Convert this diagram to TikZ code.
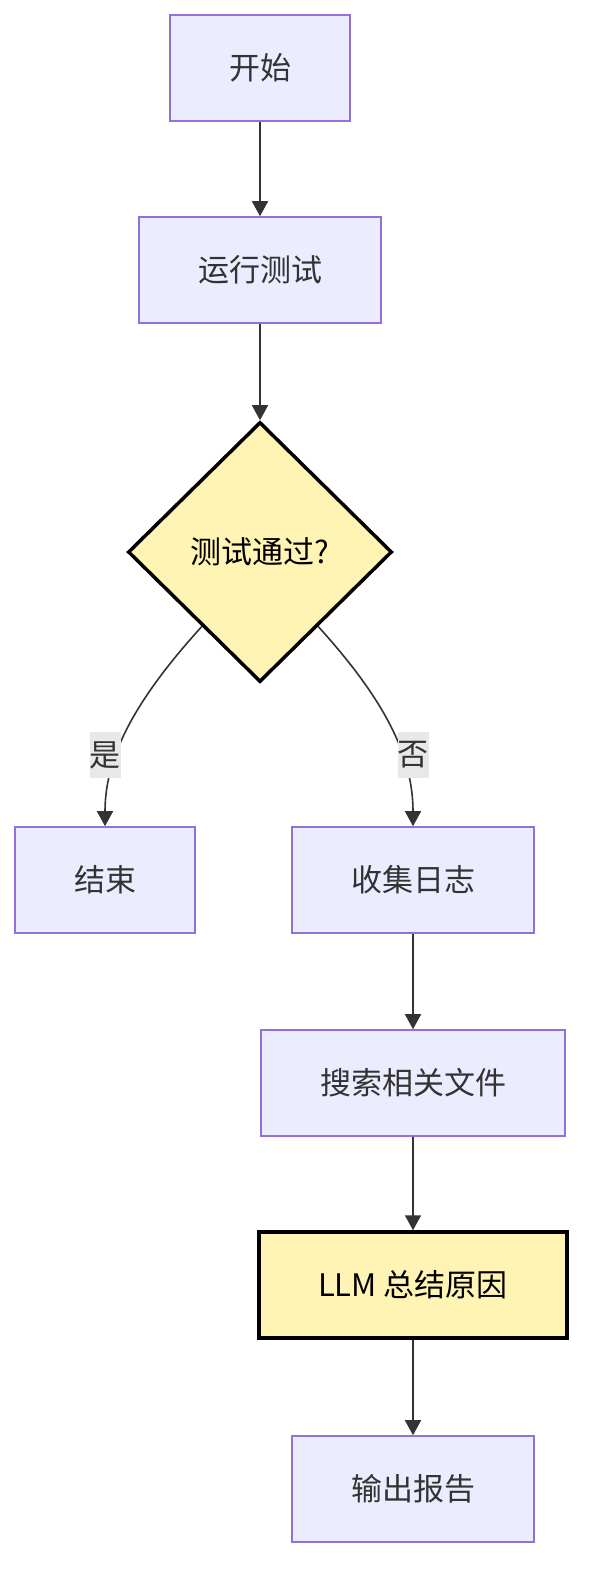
\documentclass[tikz,border=0pt]{standalone}
\usepackage{fontspec}
\setmainfont{Noto Sans CJK SC}
\usetikzlibrary{shapes.geometric,arrows.meta}
\definecolor{boxfill}{HTML}{ECECFF}
\definecolor{boxline}{HTML}{9370DB}
\definecolor{hotfill}{HTML}{FFF4B3}
\definecolor{edgeline}{HTML}{333333}
\definecolor{lblfill}{HTML}{E8E8E8}

\begin{document}
\begin{tikzpicture}[x=1pt,y=-1pt]
						\tikzstyle{box}=[rectangle,draw=boxline,fill=boxfill,line width=1.6pt,text=edgeline,font=\fontsize{31}{36}\selectfont,minimum height=106pt,inner xsep=59pt]
						\tikzstyle{hot}=[box,draw=black,fill=hotfill,text=black,line width=3.5pt]
						\tikzstyle{decision}=[diamond,draw=black,fill=hotfill,line width=3.5pt,text=black,font=\fontsize{31}{36}\selectfont,minimum width=264pt,minimum height=260pt,inner sep=0pt]
						\tikzstyle{edge}=[draw=edgeline,line width=1.6pt,-{Triangle[width=16pt,length=15pt]}]
						\tikzstyle{lbl}=[fill=lblfill,text=edgeline,font=\fontsize{31}{36}\selectfont,inner xsep=0pt,minimum height=46pt]
						\useasboundingbox (0,0) rectangle (598,1596);
						\node[box](start) at (260,68) {开始};
						\node[box](run) at (260,270) {运行测试};
						\node[decision](check) at (260,552) {测试通过?};
						\node[box](stop) at (105,880) {结束};
						\node[box](logs) at (413,880) {收集日志};
						\node[box](search) at (413,1083) {搜索相关文件};
						\node[hot](llm) at (413,1285) {LLM 总结原因};
						\node[box](report) at (413,1489) {输出报告};
						\draw[edge](start) -- (run);
						\draw[edge](run) -- (check);
						\draw[edge](check.232) .. controls +(-70,77) and +(0,-67) .. (stop.north);
						\draw[edge](check.308) .. controls +(70,77) and +(0,-67) .. (logs.north);
						\draw[edge](logs) -- (search);
						\draw[edge](search) -- (llm);
						\draw[edge](llm) -- (report);
						\node[lbl](yes) at (105,755) {是};
						\node[lbl](no) at (413,755) {否};
					\end{tikzpicture}
\end{document}
